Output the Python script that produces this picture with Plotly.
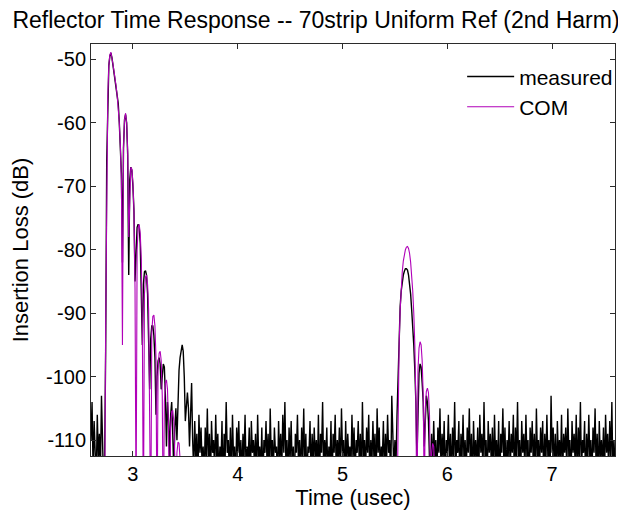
import numpy as np
import plotly.graph_objects as go

# ---------------- data ----------------
# measured trace, sampled every 0.01 usec, split into segments with their start times
noise_pre_start = 2.60
noise_pre = [-110, -104, -115, -107, -112, -116, -106, -113, -109, -115, -103, -112, -117, -113]

main_echo_start = 2.74
main_echo = [-96, -66, -55, -51, -49.5, -49, -49.8, -51, -52.3, -53.2,
             -54.5, -55.8, -57, -60, -63.5, -68, -82, -64, -59.5, -58.7,
             -60, -65, -84, -69, -67, -67.5, -70, -74, -85, -79,
             -76.5, -76, -76.5, -79, -85, -95, -85.5, -83.5, -83.3, -84,
             -87, -93, -102, -94, -92, -92, -93.5, -97, -106, -100,
             -97.5, -97, -98, -102, -99, -98, -98.5, -103, -111, -104,
             -107, -113, -106, -104, -109, -115, -108, -105, -110, -102,
             -99, -97, -95.5, -95, -96, -100, -107, -104, -102.5, -105,
             -111, -106, -101]

noise_mid_start = 3.57
noise_mid = [-110, -115, -107, -113, -109, -117, -106, -112, -108, -114,
             -111, -116, -108, -113, -105, -114, -109, -117, -107, -112,
             -110, -115, -106, -113, -109, -116, -111, -114, -107, -118,
             -109, -113, -104, -112, -110, -115, -108, -116, -106, -113,
             -111, -117, -108, -112, -107, -114, -110, -116, -109, -113,
             -106, -115, -111, -113, -108, -118, -107, -112, -110, -114,
             -109, -116, -106, -113, -111, -115, -108, -117, -110, -112,
             -107, -114, -109, -116, -105, -113, -110, -115, -108, -112,
             -111, -117, -107, -113, -109, -115, -106, -112, -104, -114,
             -110, -116, -108, -113, -107, -115, -111, -118, -109, -112,
             -106, -114, -110, -116, -108, -113, -105, -115, -109, -117,
             -111, -112, -107, -116, -109, -114, -108, -113, -110, -115,
             -106, -117, -109, -112, -104, -115, -110, -113, -108, -116,
             -111, -114, -107, -118, -109, -112, -106, -115, -110, -113,
             -108, -116, -105, -112, -110, -117, -107, -114, -109, -113,
             -111, -115, -106, -113, -108, -116, -110, -112, -107, -114,
             -109, -117, -104, -113, -110, -115, -108, -112, -106, -116,
             -110, -114, -107, -113, -109, -118, -105, -112, -108, -115,
             -111, -113, -107, -116, -109, -114, -106, -112, -110, -117,
             -103, -112, -115]

second_echo_start = 5.50
second_echo = [-110, -114, -106, -99, -93, -89, -86.5, -85, -84, -83.4,
               -83, -83, -83.2, -84, -85.3, -87, -89.5, -92, -95, -99,
               -104, -113, -103, -99.5, -98, -98.5, -101, -104, -111, -105,
               -103, -104, -107, -113]

noise_post_start = 5.84
noise_post = [-114, -109, -115, -107, -113, -110, -116, -108, -112, -105,
              -115, -109, -113, -107, -117, -110, -112, -106, -114, -109,
              -116, -108, -113, -104, -115, -110, -112, -107, -118, -109,
              -113, -106, -114, -110, -116, -108, -112, -105, -115, -109,
              -117, -107, -113, -110, -114, -108, -116, -106, -112, -109,
              -115, -104, -113, -110, -117, -107, -112, -109, -114, -108,
              -116, -106, -113, -110, -115, -107, -118, -109, -112, -105,
              -114, -108, -116, -110, -113, -107, -115, -109, -112, -106,
              -117, -108, -113, -104, -114, -110, -116, -107, -112, -109,
              -115, -106, -113, -110, -118, -108, -112, -107, -114, -109,
              -116, -105, -113, -110, -115, -108, -112, -107, -117, -109,
              -114, -106, -113, -110, -116, -103, -112, -108, -115, -109,
              -117, -107, -113, -110, -114, -106, -116, -109, -112, -108,
              -115, -105, -113, -110, -117, -107, -112, -109, -114, -106,
              -116, -108, -113, -104, -115, -110, -112, -107, -118, -109,
              -114, -106, -113, -110, -116, -108, -112, -105, -115, -109,
              -117, -107, -113, -110, -114, -108, -116, -106, -112, -109,
              -115, -107, -113, -104, -116, -110, -114]

# COM model trace (two echoes), 0.01 usec sampling
com_first_start = 2.72
com_first = [-130, -122, -92, -67, -56, -51, -49.3, -48.9, -49.6, -50.8,
             -52, -53, -54.3, -55.8, -57.5, -60, -63.5, -69, -95, -64,
             -59.5, -58.5, -60, -64.5, -78, -70, -67, -67.3, -69.5, -74,
             -86, -122, -80, -76.5, -76, -77.5, -81.5, -92, -125, -87,
             -84.3, -84, -85.5, -89.5, -100, -125, -93, -90.5, -90.3, -92,
             -97, -125, -99, -96.3, -96, -97.5, -103, -125, -104, -101,
             -100.5, -102, -108, -125, -108, -105.5, -105.3, -107, -113, -125,
             -112, -110.3, -110.5, -113, -120, -130, -130]

com_second_start = 5.50
com_second = [-130, -130, -122, -104, -95, -89.5, -86, -83.5, -81.8, -80.6,
              -80, -79.6, -79.5, -79.8, -80.6, -82, -84, -86.5, -90, -95,
              -104, -125, -99, -95.5, -94.5, -95, -97.5, -103, -120, -105,
              -102.3, -101.8, -102.5, -106, -118, -112, -110.5, -111, -115, -130,
              -130]

x_ticks = [3, 4, 5, 6, 7]
y_ticks = [-50, -60, -70, -80, -90, -100, -110]

DT = 0.01


def seg_times(start, vals):
    return list(np.round(start + DT * np.arange(len(vals)), 3))


meas_t, meas_y = [], []
for s, v in [(noise_pre_start, noise_pre), (main_echo_start, main_echo),
             (noise_mid_start, noise_mid), (second_echo_start, second_echo),
             (noise_post_start, noise_post)]:
    meas_t += seg_times(s, v)
    meas_y += v

com_t, com_y = [], []
com_t += seg_times(com_first_start, com_first)
com_y += com_first
com_t.append(None)
com_y.append(None)
com_t += seg_times(com_second_start, com_second)
com_y += com_second

FONT = "Liberation Sans"
AXC = "#2b2b2b"
MAG = "#b000b8"

fig = go.Figure()
fig.add_trace(go.Scatter(x=meas_t, y=meas_y, mode="lines", name="measured",
                         line=dict(color="black", width=1.4)))
fig.add_trace(go.Scatter(x=com_t, y=com_y, mode="lines", name="COM",
                         line=dict(color=MAG, width=1.1), connectgaps=False))

fig.update_layout(
    width=626, height=515,
    margin=dict(l=83, r=19, t=36, b=67, autoexpand=False),
    paper_bgcolor="white", plot_bgcolor="white",
    font=dict(family=FONT, color="black", size=20),
    title=dict(text="Reflector Time Response -- 70strip Uniform Ref (2nd Harm)",
               font=dict(family=FONT, size=23, color="black"),
               x=0.492, xref="container", xanchor="center",
               y=1 - 12 / 515, yref="container", yanchor="middle"),
    showlegend=True,
    legend=dict(x=1.006, xanchor="right", y=0.97, yanchor="top",
                bgcolor="rgba(0,0,0,0)", font=dict(family=FONT, size=21),
                borderwidth=0, itemwidth=47),
    xaxis=dict(range=[2.6, 7.6], tickvals=x_ticks, ticktext=[str(v) for v in x_ticks],
               showline=True, linecolor=AXC, linewidth=1, mirror="ticks",
               ticks="inside", ticklen=5, tickcolor=AXC, showgrid=False, zeroline=False,
               automargin=False, tickfont=dict(family=FONT, size=20),
               title=dict(text="Time (usec)", font=dict(family=FONT, size=22), standoff=1)),
    yaxis=dict(range=[-112.5, -47.6], tickvals=y_ticks, ticktext=[str(v) for v in y_ticks],
               showline=True, linecolor=AXC, linewidth=1, mirror="ticks",
               ticks="inside", ticklen=5, tickcolor=AXC, showgrid=False, zeroline=False,
               automargin=False, tickfont=dict(family=FONT, size=20),
               title=dict(text="Insertion Loss (dB)", font=dict(family=FONT, size=22), standoff=18)),
)

fig.write_html("out.html")
